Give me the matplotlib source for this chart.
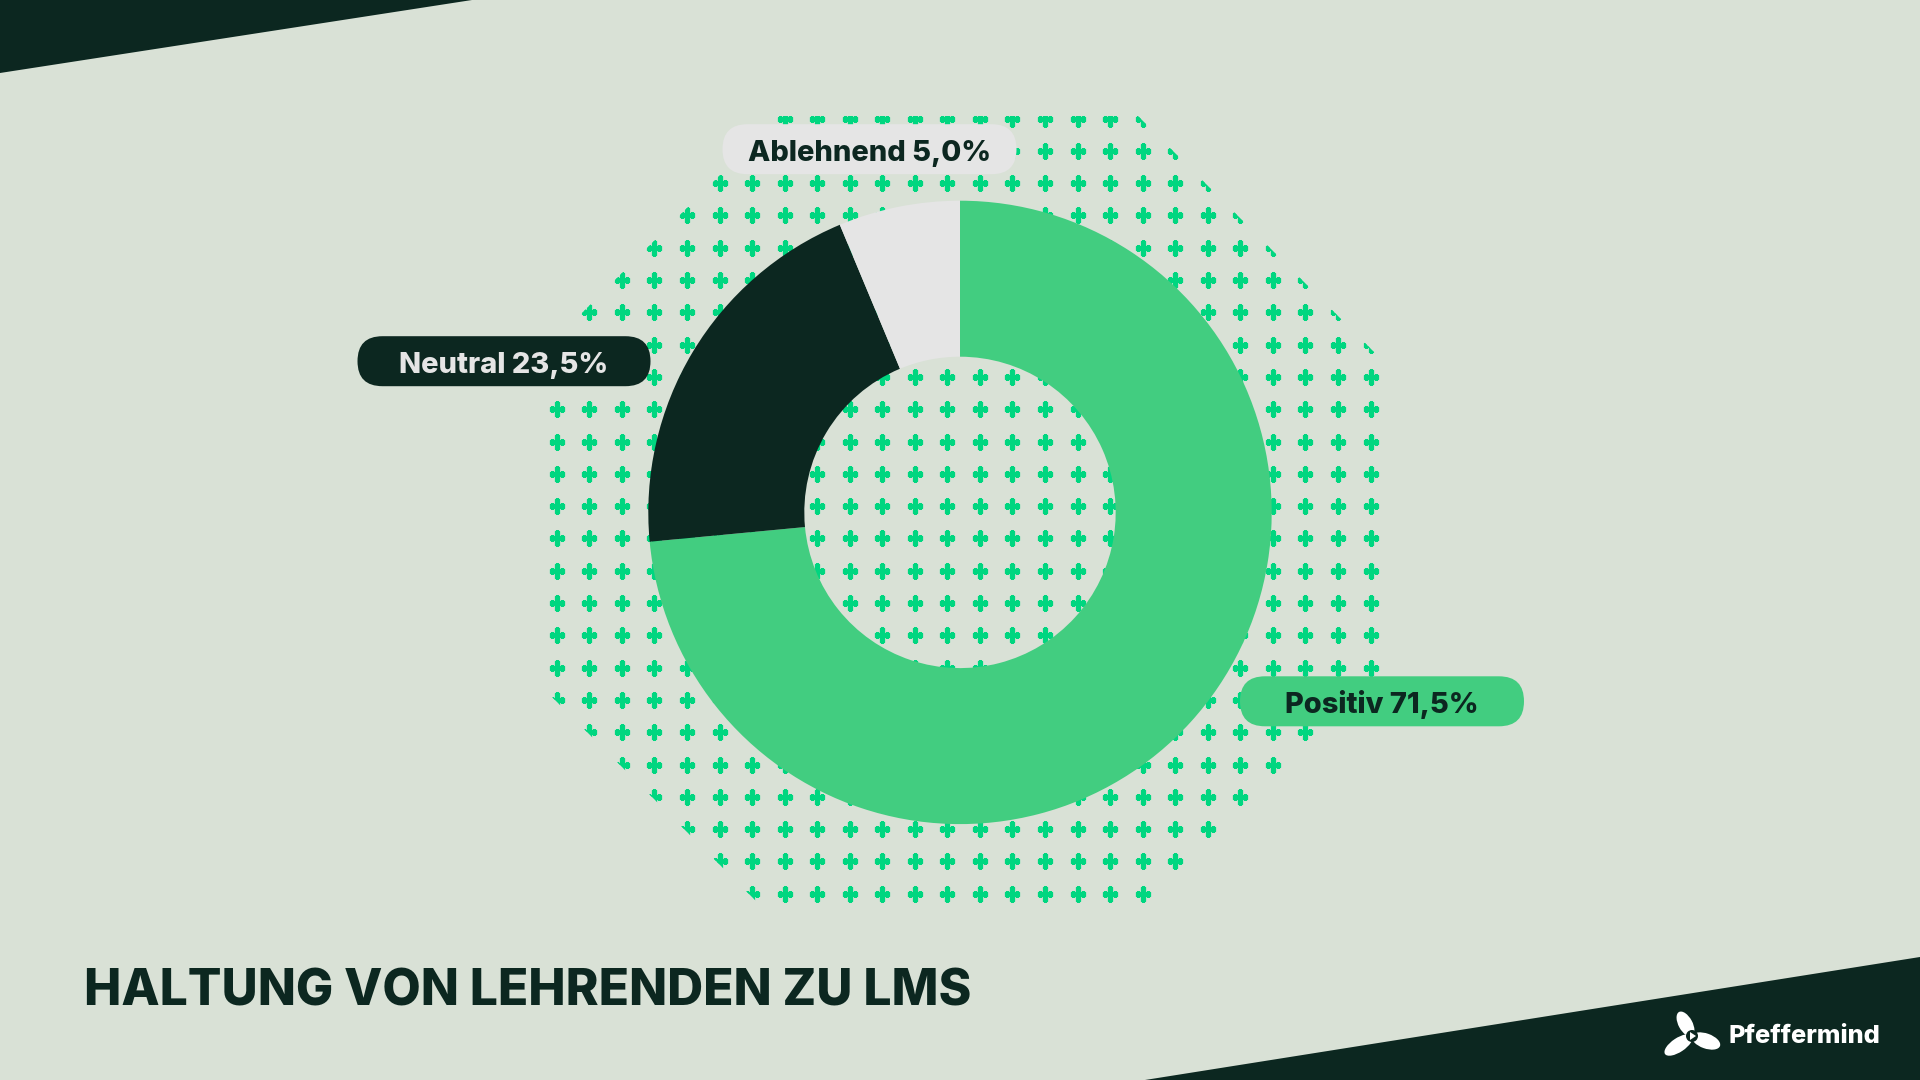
import numpy as np
import matplotlib.pyplot as plt
from matplotlib.patches import Polygon, FancyBboxPatch, Ellipse, Circle

W, H = 1920, 1080

# chart data
labels = ["Positiv", "Neutral", "Ablehnend"]
label_pct = [71.5, 23.5, 5.0]          # numbers printed on the labels
arc_shares = [73.5, 20.2, 6.3]         # ring sizes as drawn in the picture
title = "HALTUNG VON LEHRENDEN ZU LMS"
brand = "Pfeffermind"

BG = "#D9E1D6"
DARK = "#0C2720"
GREEN = "#42CD80"
GREY = "#E5E5E5"
PLUS = "#00D680"
slice_colors = [GREEN, DARK, GREY]

plt.rcParams["font.family"] = ["Inter", "DejaVu Sans"]

fig = plt.figure(figsize=(19.2, 10.8), dpi=100)
fig.patch.set_facecolor(BG)
ax = fig.add_axes([0, 0, 1, 1])
ax.set_facecolor(BG)

# dark corner stripes
ax.add_patch(Polygon([(0, 0), (472, 0), (0, 73)], closed=True, fc=DARK, lw=0, zorder=1))
ax.add_patch(Polygon([(1145, 1080), (1920, 957), (1920, 1080)], closed=True, fc=DARK, lw=0, zorder=1))

# plus pattern behind the donut, clipped to an octagon
gx = 556.8 + 32.55 * np.arange(26)
gy = 118.5 + 32.3 * np.arange(25)
px, py = np.meshgrid(gx, gy)
octagon = Polygon([(779, 116), (1138, 116), (1380, 358), (1380, 678), (1153, 905),
                   (760, 905), (548, 693), (548, 347)], closed=True, fc="none", ec="none")
ax.add_patch(octagon)
dots = ax.scatter(px.ravel(), py.ravel(), marker="P", s=110, color=PLUS,
                  edgecolors=PLUS, lw=0.9, zorder=2)
dots.set_clip_path(octagon)

# donut (y axis is inverted, so start at -90 and go counterclock in data space)
cx, cy, r_out, r_in = 960, 512.4, 311.7, 155.7
wedges, _ = ax.pie(arc_shares, colors=slice_colors, startangle=-90, counterclock=True,
                   center=(cx, cy), radius=r_out,
                   wedgeprops=dict(width=r_out - r_in, linewidth=0))
for w in wedges:
    w.set_zorder(3)

# pill labels
pill_layout = {
    "Ablehnend": dict(c=(869.5, 149.2), w=294, fc=GREY, tc=DARK),
    "Neutral": dict(c=(504, 361.2), w=293, fc=DARK, tc=GREY),
    "Positiv": dict(c=(1382, 701.3), w=284, fc=GREEN, tc=DARK),
}
ph = 50
for lab, val in zip(labels, label_pct):
    p = pill_layout[lab]
    x0 = p["c"][0] - p["w"] / 2
    y0 = p["c"][1] - ph / 2
    ax.add_patch(FancyBboxPatch((x0, y0), p["w"], ph, boxstyle="round,pad=0,rounding_size=25",
                                fc=p["fc"], ec="none", zorder=4))
    txt = f"{lab} {val:.1f}%".replace(".", ",")
    ax.text(p["c"][0], p["c"][1] + 11.4, txt, ha="center", va="baseline",
            fontsize=20.9, fontweight="heavy", color=p["tc"], zorder=5)

# title
ax.text(83.5, 1005, title, ha="left", va="baseline", fontsize=35.8,
        fontweight="heavy", color=DARK, zorder=5)

# brand mark
lc = (1692, 1036)
for tip, thick in [((1679, 1012), 14), ((1720, 1046), 15), ((1665, 1054), 14)]:
    dx, dy = tip[0] - lc[0], tip[1] - lc[1]
    length = np.hypot(dx, dy)
    ang = np.degrees(np.arctan2(dy, dx))
    ax.add_patch(Ellipse((lc[0] + dx / 2, lc[1] + dy / 2), length, thick, angle=ang,
                         fc="white", ec="none", zorder=5))
ax.add_patch(Circle(lc, 6, fc=DARK, ec="none", zorder=6))
ax.add_patch(Polygon([(1690, 1032), (1690, 1040), (1696, 1036)], closed=True,
                     fc="white", ec="none", zorder=7))
ax.text(1729, 1043.3, brand, ha="left", va="baseline", fontsize=18.3,
        fontweight="heavy", color="white", zorder=5)

ax.set_xlim(0, W)
ax.set_ylim(H, 0)
ax.axis("off")

fig.savefig("out.png", dpi=100, facecolor=BG)
